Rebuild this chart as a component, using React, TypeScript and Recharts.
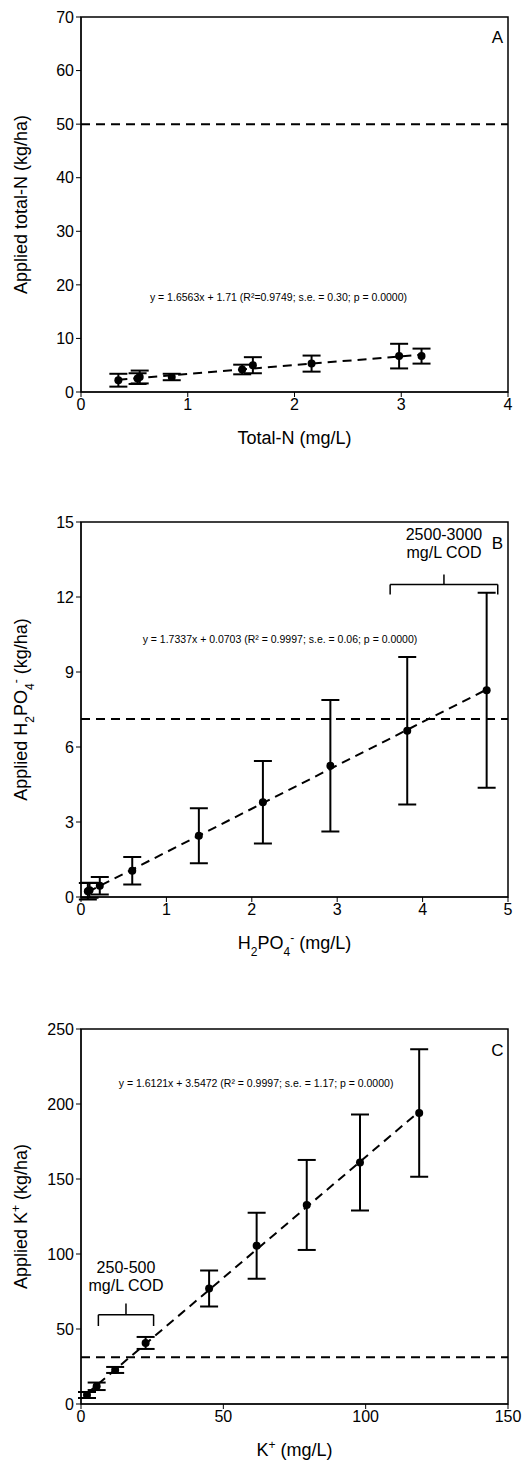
import React from 'react';
import {
  ComposedChart,
  Scatter,
  ErrorBar,
  XAxis,
  YAxis,
  ReferenceLine,
  ReferenceArea,
  ReferenceDot,
} from 'recharts';

// Panel A: total-N
const pointsA = [
  { x: 0.35, y: 2.2, err: 1.2 },
  { x: 0.53, y: 2.5, err: 1.0 },
  { x: 0.55, y: 2.8, err: 1.2 },
  { x: 0.85, y: 2.8, err: 0.6 },
  { x: 1.51, y: 4.2, err: 0.9 },
  { x: 1.61, y: 5.0, err: 1.5 },
  { x: 2.16, y: 5.3, err: 1.5 },
  { x: 2.98, y: 6.7, err: 2.3 },
  { x: 3.19, y: 6.7, err: 1.4 },
];
const trendA = [{ x: 0.35, y: 2.3 }, { x: 3.2, y: 7.0 }];
const limitA = 50;
const ticksAx = [0, 1, 2, 3, 4];
const ticksAy = [0, 10, 20, 30, 40, 50, 60, 70];

// Panel B: H2PO4-
const pointsB = [
  { x: 0.08, y: 0.23, err: 0.33 },
  { x: 0.1, y: 0.27, err: 0.3 },
  { x: 0.22, y: 0.45, err: 0.35 },
  { x: 0.6, y: 1.05, err: 0.55 },
  { x: 1.38, y: 2.45, err: 1.1 },
  { x: 2.13, y: 3.79, err: 1.65 },
  { x: 2.92, y: 5.25, err: 2.63 },
  { x: 3.82, y: 6.65, err: 2.95 },
  { x: 4.75, y: 8.27, err: 3.9 },
];
const trendB = [{ x: 0.08, y: 0.2 }, { x: 4.75, y: 8.3 }];
const limitB = 7.12;
const ticksBx = [0, 1, 2, 3, 4, 5];
const ticksBy = [0, 3, 6, 9, 12, 15];
const braceB = { x1: 3.62, x2: 4.88, mid: 4.25, base: 12.5, tip: 12.9, leg: 12.1 };

// Panel C: K+
const pointsC = [
  { x: 2.1, y: 6, err: 2 },
  { x: 5.5, y: 11.8, err: 2.5 },
  { x: 12, y: 22.7, err: 2 },
  { x: 22.7, y: 40.7, err: 4 },
  { x: 45, y: 77, err: 12 },
  { x: 61.7, y: 105.5, err: 22 },
  { x: 79.3, y: 132.7, err: 30 },
  { x: 98, y: 161, err: 32 },
  { x: 118.8, y: 194, err: 42.5 },
];
const trendC = [{ x: 2, y: 6.8 }, { x: 118.8, y: 195 }];
const limitC = 31.2;
const ticksCx = [0, 50, 100, 150];
const ticksCy = [0, 50, 100, 150, 200, 250];
const braceC = { x1: 6.1, x2: 25.5, mid: 15.8, base: 59.5, tip: 67, leg: 52 };

const FONT = '"Liberation Sans", Arial, sans-serif';
const tick = { fill: '#000', fontSize: 16, fontFamily: FONT };

const Dot = (p: any) => <circle cx={p.cx} cy={p.cy} r={4} fill="#000" />;

const textAt = (lines: string[], size: number) => (props: any) => {
  const vb = props.viewBox || {};
  const cx = vb.x + (vb.width || 0) / 2;
  const cy = vb.y + (vb.height || 0) / 2;
  return (
    <text x={cx} y={cy} textAnchor="middle" fontFamily={FONT} fontSize={size} fill="#000">
      {lines.map((l, i) => (
        <tspan key={i} x={cx} dy={i === 0 ? -(lines.length - 1) * size * 0.55 + size * 0.35 : size * 1.1}>
          {l}
        </tspan>
      ))}
    </text>
  );
};

const xTitle = (node: React.ReactNode) => (props: any) => {
  const vb = props.viewBox;
  return (
    <text x={vb.x + vb.width / 2} y={vb.y + 52} textAnchor="middle" fontFamily={FONT} fontSize={18} fill="#000">
      {node}
    </text>
  );
};

const yTitle = (node: React.ReactNode) => (props: any) => {
  const vb = props.viewBox;
  const cx = 27;
  const cy = vb.y + vb.height / 2;
  return (
    <text x={cx} y={cy} textAnchor="middle" fontFamily={FONT} fontSize={18} fill="#000"
      transform={`rotate(-90 ${cx} ${cy})`}>
      {node}
    </text>
  );
};

const sub = (s: string) => <tspan baselineShift="sub" fontSize={12}>{s}</tspan>;
const sup = (s: string) => <tspan baselineShift="super" fontSize={12}>{s}</tspan>;

interface PanelProps {
  top: number;
  points: { x: number; y: number; err: number }[];
  trend: { x: number; y: number }[];
  limit: number;
  xTicks: number[];
  yTicks: number[];
  xLabel: React.ReactNode;
  yLabel: React.ReactNode;
  letter: string;
  letterY: number;
  eq: string;
  eqPos: { x: number; y: number };
  brace?: { x1: number; x2: number; mid: number; base: number; tip: number; leg: number };
  braceText?: string[];
  braceTextY?: number;
  plotTop: number;
}

const Panel = (p: PanelProps) => {
  const xMax = p.xTicks[p.xTicks.length - 1];
  const yMax = p.yTicks[p.yTicks.length - 1];
  const line = { stroke: '#000', strokeWidth: 2, strokeDasharray: '9 6' };
  const b = p.brace;
  return (
    <div style={{ position: 'absolute', left: 0, top: p.top }}>
      <ComposedChart width={529} height={p.plotTop + 375 + 80}
        margin={{ top: p.plotTop, right: 21, left: 0, bottom: 20 }}>
        <XAxis type="number" dataKey="x" domain={[0, xMax]} ticks={p.xTicks} tick={tick}
          axisLine={{ stroke: '#000' }} tickLine={{ stroke: '#000' }} tickSize={5} height={60}
          allowDataOverflow label={{ content: xTitle(p.xLabel) } as any} />
        <YAxis type="number" dataKey="y" domain={[0, yMax]} ticks={p.yTicks} tick={tick}
          axisLine={{ stroke: '#000' }} tickLine={{ stroke: '#000' }} tickSize={5} width={81}
          allowDataOverflow label={{ content: yTitle(p.yLabel) } as any} />
        <ReferenceArea x1={0} x2={xMax} y1={0} y2={yMax} fill="none" stroke="#000" strokeWidth={1.5} />
        <ReferenceLine y={p.limit} {...line} />
        <ReferenceLine segment={[p.trend[0], p.trend[1]]} {...line} />
        {b && (
          <>
            <ReferenceLine segment={[{ x: b.x1, y: b.leg }, { x: b.x1, y: b.base }]} stroke="#000" strokeWidth={1.5} />
            <ReferenceLine segment={[{ x: b.x2, y: b.leg }, { x: b.x2, y: b.base }]} stroke="#000" strokeWidth={1.5} />
            <ReferenceLine segment={[{ x: b.x1, y: b.base }, { x: b.x2, y: b.base }]} stroke="#000" strokeWidth={1.5} />
            <ReferenceLine segment={[{ x: b.mid, y: b.base }, { x: b.mid, y: b.tip }]} stroke="#000" strokeWidth={1.5} />
            <ReferenceDot x={b.mid} y={p.braceTextY} r={0} fill="none" stroke="none"
              label={{ content: textAt(p.braceText || [], 16) } as any} />
          </>
        )}
        <ReferenceDot x={p.eqPos.x} y={p.eqPos.y} r={0} fill="none" stroke="none"
          label={{ content: textAt([p.eq], 10.5) } as any} />
        <ReferenceDot x={xMax * 0.975} y={p.letterY} r={0} fill="none" stroke="none"
          label={{ content: textAt([p.letter], 17) } as any} />
        <Scatter data={p.points} shape={<Dot />} isAnimationActive={false}>
          <ErrorBar dataKey="err" direction="y" width={9} stroke="#000" strokeWidth={2} />
        </Scatter>
      </ComposedChart>
    </div>
  );
};

export default function App() {
  return (
    <div style={{ position: 'absolute', left: 0, top: 0, width: 529, height: 1463, background: '#fff' }}>
      <Panel top={0} plotTop={17} points={pointsA} trend={trendA} limit={limitA}
        xTicks={ticksAx} yTicks={ticksAy} xLabel="Total-N (mg/L)" yLabel="Applied total-N (kg/ha)"
        letter="A" letterY={66.3}
        eq="y = 1.6563x + 1.71 (R²=0.9749; s.e. = 0.30; p = 0.0000)" eqPos={{ x: 1.85, y: 17.6 }} />
      <Panel top={505} plotTop={17} points={pointsB} trend={trendB} limit={limitB}
        xTicks={ticksBx} yTicks={ticksBy}
        xLabel={<>H{sub('2')}PO{sub('4')}{sup('-')} (mg/L)</>}
        yLabel={<>Applied H{sub('2')}PO{sub('4')}{sup('-')} (kg/ha)</>}
        letter="B" letterY={14.15}
        eq="y = 1.7337x + 0.0703 (R² = 0.9997; s.e. = 0.06; p = 0.0000)" eqPos={{ x: 2.33, y: 10.3 }}
        brace={braceB} braceText={['2500-3000', 'mg/L COD']} braceTextY={14.15} />
      <Panel top={1012} plotTop={17} points={pointsC} trend={trendC} limit={limitC}
        xTicks={ticksCx} yTicks={ticksCy} xLabel={<>K{sup('+')} (mg/L)</>}
        yLabel={<>Applied K{sup('+')} (kg/ha)</>}
        letter="C" letterY={236}
        eq="y = 1.6121x + 3.5472 (R² = 0.9997; s.e. = 1.17; p = 0.0000)" eqPos={{ x: 61.5, y: 214 }}
        brace={braceC} braceText={['250-500', 'mg/L COD']} braceTextY={85} />
    </div>
  );
}
